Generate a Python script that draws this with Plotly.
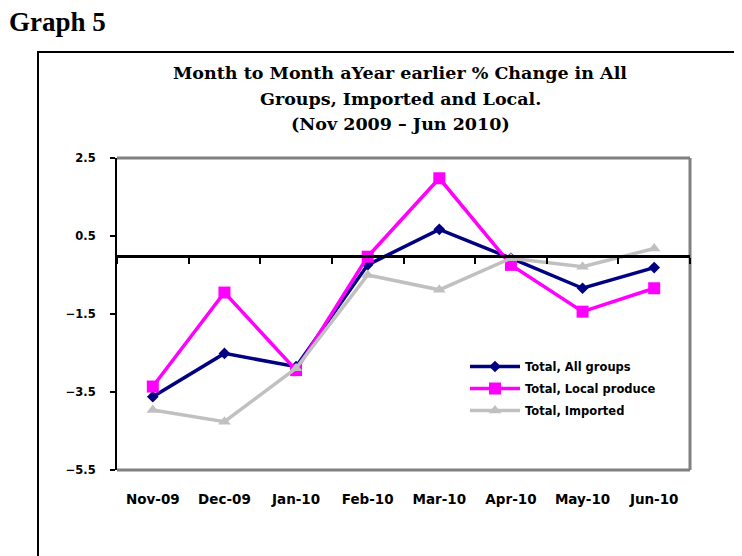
import plotly.graph_objects as go

months = ["Nov-09", "Dec-09", "Jan-10", "Feb-10", "Mar-10", "Apr-10", "May-10", "Jun-10"]
all_groups = [-3.62, -2.51, -2.85, -0.24, 0.67, -0.07, -0.84, -0.31]
local_produce = [-3.36, -0.95, -2.94, -0.03, 1.98, -0.24, -1.44, -0.84]
imported = [-3.96, -4.26, -2.89, -0.50, -0.88, -0.07, -0.29, 0.18]
y_ticks = [2.5, 0.5, -1.5, -3.5, -5.5]

# page is rendered with an 8px body margin
OFF = 8
W, H = 742 - OFF, 556 - OFF
# plot area in reference-image pixels
X0, X1, Y0, Y1 = 117, 690, 158, 470
L, R, T, B = X0 - OFF, 742 - X1, Y0 - OFF, 556 - Y1
pw, ph = X1 - X0, Y1 - Y0

def px(x):
    return (x - X0) / pw

def py(y):
    return (Y1 - y) / ph

fig = go.Figure()
fig.add_trace(go.Scatter(x=months, y=all_groups, name="Total, All groups", mode="lines+markers",
                         legendgroup="a",
                         line=dict(color="#000080", width=3.5),
                         marker=dict(symbol="diamond", size=9, color="#000080")))
fig.add_trace(go.Scatter(x=months, y=local_produce, name="Total, Local produce", mode="lines+markers",
                         legendgroup="b",
                         line=dict(color="#FF00FF", width=3.5),
                         marker=dict(symbol="square", size=12, color="#FF00FF")))
fig.add_trace(go.Scatter(x=months, y=imported, name="Total, Imported", mode="lines+markers",
                         legendgroup="c",
                         line=dict(color="#C0C0C0", width=3.5),
                         marker=dict(symbol="triangle-up", size=11, color="#C0C0C0")))
# invisible trace for the zero-crossing category axis
fig.add_trace(go.Scatter(x=months, y=[None] * len(months), xaxis="x2", showlegend=False,
                         hoverinfo="skip", mode="lines"))

SANS = "DejaVu Sans, Arial"
SERIF = "DejaVu Serif, Times New Roman"

fig.update_layout(
    width=W, height=H,
    margin=dict(l=L, r=R, t=T, b=B, autoexpand=False),
    paper_bgcolor="white", plot_bgcolor="white",
    showlegend=True,
    legend=dict(x=px(465), y=py(352), xanchor="left", yanchor="top",
                font=dict(family=SANS, size=11.5, color="black", weight="bold"),
                bgcolor="rgba(0,0,0,0)", itemwidth=50, tracegroupgap=3),
    xaxis=dict(type="category", categoryorder="array", categoryarray=months,
               range=[-0.5, 7.5], showline=False, showgrid=False, zeroline=False,
               ticks="", tickfont=dict(family=SANS, size=13.5, color="black", weight="bold"),
               ticklabelstandoff=19),
    xaxis2=dict(type="category", categoryorder="array", categoryarray=months,
                range=[-0.5, 7.5], overlaying="x", anchor="free", position=(0 + 5.5) / 8,
                showline=True, linecolor="black", linewidth=3, showgrid=False, zeroline=False,
                ticks="outside", tickson="boundaries", ticklen=6, tickwidth=2, tickcolor="black",
                showticklabels=False),
    yaxis=dict(range=[-5.5, 2.5], tickvals=y_ticks, showgrid=False, zeroline=False,
               showline=True, linecolor="black", linewidth=2,
               ticks="outside", ticklen=5, tickwidth=1.5, tickcolor="black",
               tickfont=dict(family=SANS, size=11.5, color="black", weight="bold"),
               tickformat=".1f", ticklabelstandoff=12),
    shapes=[
        dict(type="line", xref="paper", yref="paper", x0=0, x1=1, y0=1, y1=1,
             line=dict(color="#808080", width=3), layer="below"),
        dict(type="line", xref="paper", yref="paper", x0=1, x1=1, y0=0, y1=1,
             line=dict(color="#808080", width=3), layer="below"),
        dict(type="line", xref="paper", yref="paper", x0=0, x1=1, y0=0, y1=0,
             line=dict(color="#808080", width=3), layer="below"),
        dict(type="rect", xref="paper", yref="paper", x0=px(38), x1=px(760), y0=py(52), y1=py(580),
             line=dict(color="black", width=2), layer="below"),
    ],
    annotations=[
        dict(text="<b>Graph 5</b>", xref="paper", yref="paper", x=px(7), y=py(22),
             xanchor="left", yanchor="middle", showarrow=False,
             font=dict(family="Liberation Serif, Times New Roman", size=27, color="black")),
        dict(text="<b>Month to Month aYear earlier % Change in All</b>", xref="paper", yref="paper",
             x=px(400), y=py(73), xanchor="center", yanchor="middle", showarrow=False,
             font=dict(family=SERIF, size=17.5, color="black")),
        dict(text="<b>Groups, Imported and Local.</b>", xref="paper", yref="paper",
             x=px(400), y=py(99), xanchor="center", yanchor="middle", showarrow=False,
             font=dict(family=SERIF, size=17.5, color="black")),
        dict(text="<b>(Nov 2009 – Jun 2010)</b>", xref="paper", yref="paper",
             x=px(400), y=py(124), xanchor="center", yanchor="middle", showarrow=False,
             font=dict(family=SERIF, size=17.5, color="black")),
    ],
)

fig.write_html("out.html")
